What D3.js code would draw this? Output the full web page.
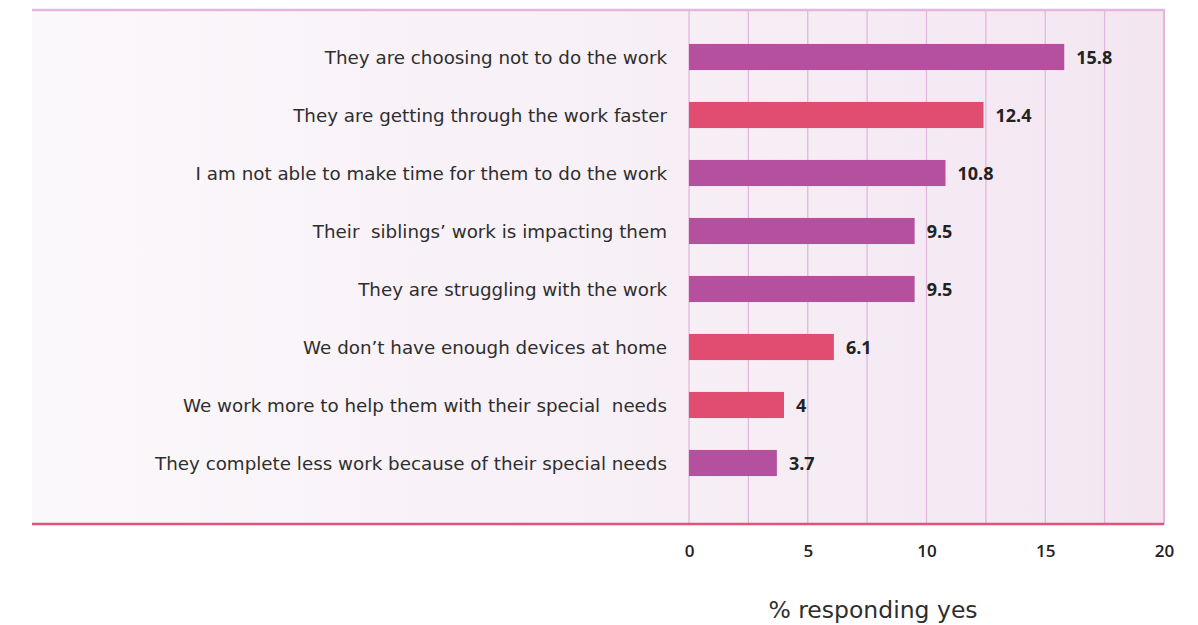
<!DOCTYPE html>
<html>
<head>
<meta charset="utf-8">
<script src="https://cdn.jsdelivr.net/npm/d3@7"></script>
<style>
  html, body { margin: 0; padding: 0; background: #ffffff; }
  svg { display: block; }
</style>
</head>
<body>
<svg id="chart" width="1198" height="625"></svg>
<script>
// Reasons given, top to bottom
const categories = [
  "They are choosing not to do the work",
  "They are getting through the work faster",
  "I am not able to make time for them to do the work",
  "Their  siblings\u2019 work is impacting them",
  "They are struggling with the work",
  "We don\u2019t have enough devices at home",
  "We work more to help them with their special  needs",
  "They complete less work because of their special needs"
];
const values = [15.8, 12.4, 10.8, 9.5, 9.5, 6.1, 4, 3.7];
// Colour group for each bar: 0 = purple, 1 = pink
const groups = [0, 1, 0, 0, 0, 1, 1, 0];
const tickValues = [0, 5, 10, 15, 20];
const gridValues = [0, 2.5, 5, 7.5, 10, 12.5, 15, 17.5, 20];
const axisTitle = "% responding yes";

const palette = ["#b5509e", "#e04d70"];
const labelFont = "'DejaVu Sans', sans-serif";
const numberFont = "'Open Sans', sans-serif";

const svg = d3.select("#chart");

const panel = { left: 32, top: 10, right: 1164, bottom: 524 };

const x = d3.scaleLinear().domain([0, 20]).range([689, 1164]);
const y = d3.scaleBand().domain(categories).range([28, 492]).paddingInner(0.55).paddingOuter(0.275);

// Soft background gradient behind the panel
const defs = svg.append("defs");
const grad = defs.append("linearGradient").attr("id", "panelGrad")
  .attr("x1", "0%").attr("x2", "100%").attr("y1", "0%").attr("y2", "0%");
grad.append("stop").attr("offset", "0%").attr("stop-color", "#fbf8fb");
grad.append("stop").attr("offset", "55%").attr("stop-color", "#f7eff6");
grad.append("stop").attr("offset", "100%").attr("stop-color", "#f3e6f1");

svg.append("rect")
  .attr("x", panel.left).attr("y", panel.top)
  .attr("width", panel.right - panel.left).attr("height", panel.bottom - panel.top)
  .attr("fill", "url(#panelGrad)");

// Vertical gridlines
svg.append("g").selectAll("line").data(gridValues).join("line")
  .attr("x1", d => x(d)).attr("x2", d => x(d))
  .attr("y1", panel.top).attr("y2", panel.bottom)
  .attr("stroke", "#e2b9dc").attr("stroke-width", 1.3);

// Panel top and right borders
svg.append("line")
  .attr("x1", panel.left).attr("x2", panel.right + 1)
  .attr("y1", panel.top).attr("y2", panel.top)
  .attr("stroke", "#e3b6dc").attr("stroke-width", 2.6);
svg.append("line")
  .attr("x1", panel.right).attr("x2", panel.right)
  .attr("y1", panel.top).attr("y2", panel.bottom)
  .attr("stroke", "#e3b6dc").attr("stroke-width", 2);

// Bars
svg.append("g").selectAll("rect").data(categories).join("rect")
  .attr("x", x(0))
  .attr("y", d => y(d))
  .attr("width", (d, i) => x(values[i]) - x(0))
  .attr("height", y.bandwidth())
  .attr("fill", (d, i) => palette[groups[i]]);

// Baseline along the bottom of the panel
svg.append("line")
  .attr("x1", panel.left).attr("x2", panel.right)
  .attr("y1", panel.bottom).attr("y2", panel.bottom)
  .attr("stroke", "#e0547a").attr("stroke-width", 2.6);

// Category labels
svg.append("g").selectAll("text").data(categories).join("text")
  .attr("x", 667)
  .attr("y", d => y(d) + y.bandwidth() / 2 + 1)
  .attr("dy", "0.35em")
  .attr("text-anchor", "end")
  .attr("font-family", labelFont)
  .attr("font-size", 18.3)
  .attr("fill", "#2e2e2e")
  .attr("xml:space", "preserve")
  .style("white-space", "pre")
  .text(d => d);

// Value labels
svg.append("g").selectAll("text").data(categories).join("text")
  .attr("x", (d, i) => x(values[i]) + 12)
  .attr("y", d => y(d) + y.bandwidth() / 2 + 1)
  .attr("dy", "0.35em")
  .attr("font-family", numberFont)
  .attr("font-weight", 700)
  .attr("font-size", 18)
  .attr("fill", "#222222")
  .text((d, i) => values[i]);

// Bottom axis tick labels
const axis = d3.axisBottom(x).tickValues(tickValues).tickSize(0).tickPadding(0);
const axisG = svg.append("g").attr("transform", "translate(0, 545)").call(axis);
axisG.select(".domain").remove();
axisG.selectAll("text")
  .attr("font-family", numberFont)
  .attr("font-weight", 600)
  .attr("font-size", 17)
  .attr("fill", "#222222");

// Axis title
svg.append("text")
  .attr("x", 873).attr("y", 618)
  .attr("text-anchor", "middle")
  .attr("font-family", labelFont)
  .attr("font-size", 23.5)
  .attr("fill", "#2e2e2e")
  .text(axisTitle);
</script>
</body>
</html>
